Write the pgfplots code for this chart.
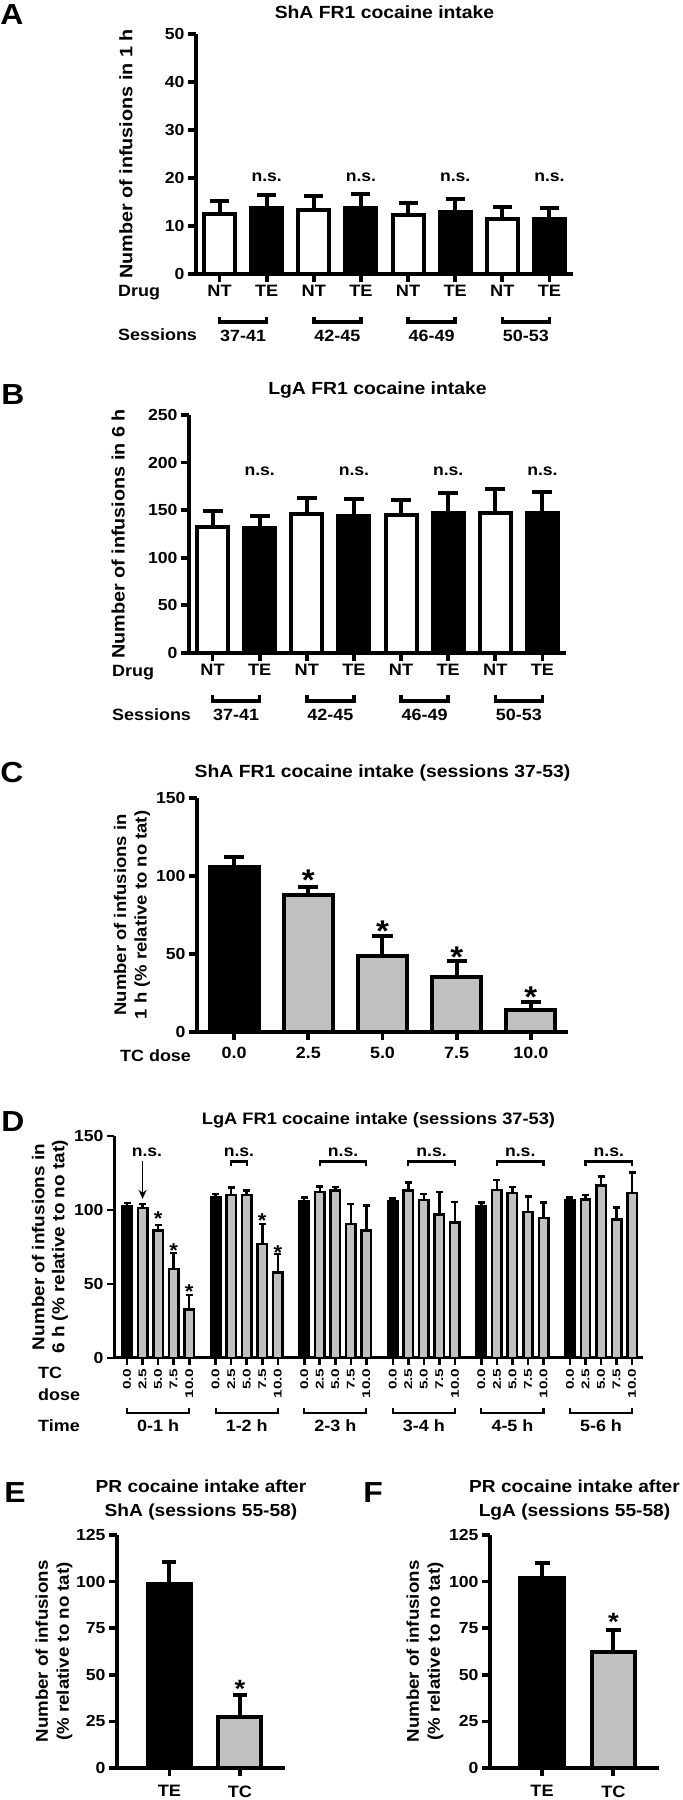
\documentclass[border=0pt]{standalone}
\usepackage{pgfplots}
\pgfplotsset{compat=1.18}
\usepackage{graphicx}
\usepackage{fontspec}
\setmainfont{Liberation Sans}[FakeStretch=1.1]
\usetikzlibrary{arrows.meta}
\definecolor{barg}{RGB}{192,192,192}
\newcommand\fs[1]{\fontsize{#1}{#1}\selectfont\bfseries}
\newcommand\fsl[2]{\fontsize{#1}{#2}\selectfont\bfseries}
\newcommand\q[1]{\scalebox{1}[0.8]{#1}}
\pgfplotsset{
 base/.style={
  scale only axis, clip=false, enlargelimits=false,
  axis lines=left,
  axis line style={-, line width=4.2pt},
  tick style={line width=3.8pt, black},
  tick align=outside, major tick length=8pt,
  /pgf/number format/assume math mode=true,
  ticklabel style={font=\fs{16}},
  ymin=0,
  ybar, bar shift=0pt,
  every axis title/.style={font=\fs{17.6}, anchor=center, align=center},
  every axis y label/.style={rotate=90, anchor=center, align=center, font=\fsl{17}{21}},
 },
 bw/.style={fill=white, draw=black, line width=4pt, bar shift=0pt},
 bb/.style={fill=black, draw=black, line width=4pt, bar shift=0pt},
 bg/.style={fill=barg, draw=black, line width=4pt, bar shift=0pt},
 eb/.style 2 args={error bars/.cd, y dir=plus, y explicit,
   error bar style={line width=#1, black, solid},
   error mark options={rotate=90, line width=#1, mark size=#2, black, solid}},
}
\begin{document}
\begin{tikzpicture}[x=1pt,y=1pt]
\useasboundingbox (0,0) rectangle (683,1800);

% ---------------- Panel A ----------------
\begin{axis}[base, at={(196pt,1526pt)}, anchor=south west, width=377pt, height=240pt,
 xmin=-0.5, xmax=7.5, ymax=50, ytick={0,10,20,30,40,50},
 xtick={0,1,2,3,4,5,6,7}, xticklabels={NT,TE,NT,TE,NT,TE,NT,TE},
 xticklabel style={font=\fs{16.5}},
 title={ShA FR1 cocaine intake}, title style={at={(axis description cs:0.5,1.0917)}},
 ylabel={Number of infusions in 1 h},
 ylabel style={at={(axis description cs:-0.186,0.5)}, font=\fs{18}}]
\addplot[bw, bar width=0.66, eb={4pt}{9.5pt}] table[x=x,y=y,y error=e]{
x y e
0 12.5 2.8
2 13.3 2.9
4 12.2 2.5
6 11.4 2.6
};
\addplot[bb, bar width=0.66, eb={4pt}{9.5pt}] table[x=x,y=y,y error=e]{
x y e
1 13.75 2.65
3 13.8 2.9
5 12.9 2.8
7 11.4 2.35
};
\node[font=\fs{16}] at (axis cs:1,20.2) {n.s.};
\node[font=\fs{16}] at (axis cs:3,20.2) {n.s.};
\node[font=\fs{16}] at (axis cs:5,20.2) {n.s.};
\node[font=\fs{16}] at (axis cs:7,20.2) {n.s.};
\draw[line width=3.5pt] ([yshift=-43pt]axis cs:0,0) -- ([yshift=-48pt]axis cs:0,0) -- ([yshift=-48pt]axis cs:1,0) -- ([yshift=-43pt]axis cs:1,0);
\draw[line width=3.5pt] ([yshift=-43pt]axis cs:2,0) -- ([yshift=-48pt]axis cs:2,0) -- ([yshift=-48pt]axis cs:3,0) -- ([yshift=-43pt]axis cs:3,0);
\draw[line width=3.5pt] ([yshift=-43pt]axis cs:4,0) -- ([yshift=-48pt]axis cs:4,0) -- ([yshift=-48pt]axis cs:5,0) -- ([yshift=-43pt]axis cs:5,0);
\draw[line width=3.5pt] ([yshift=-43pt]axis cs:6,0) -- ([yshift=-48pt]axis cs:6,0) -- ([yshift=-48pt]axis cs:7,0) -- ([yshift=-43pt]axis cs:7,0);
\node[font=\fs{16.3}] at ([yshift=-62pt]axis cs:0.5,0) {37-41};
\node[font=\fs{16.3}] at ([yshift=-62pt]axis cs:2.5,0) {42-45};
\node[font=\fs{16.3}] at ([yshift=-62pt]axis cs:4.5,0) {46-49};
\node[font=\fs{16.3}] at ([yshift=-62pt]axis cs:6.5,0) {50-53};
\end{axis}

% ---------------- Panel B ----------------
\begin{axis}[base, at={(189pt,1147pt)}, anchor=south west, width=377pt, height=238pt,
 xmin=-0.5, xmax=7.5, ymax=250, ytick={0,50,100,150,200,250},
 xtick={0,1,2,3,4,5,6,7}, xticklabels={NT,TE,NT,TE,NT,TE,NT,TE},
 xticklabel style={font=\fs{16.5}},
 title={LgA FR1 cocaine intake}, title style={at={(axis description cs:0.5,1.105)}},
 ylabel={Number of infusions in 6 h},
 ylabel style={at={(axis description cs:-0.188,0.5)}, font=\fs{18}}]
\addplot[bw, bar width=0.66, eb={4pt}{10pt}] table[x=x,y=y,y error=e]{
x y e
0 132 17
2 145.5 17.5
4 144.5 16.5
6 147.3 24.5
};
\addplot[bb, bar width=0.66, eb={4pt}{10pt}] table[x=x,y=y,y error=e]{
x y e
1 131.5 12.5
3 143.4 18.6
5 147 21
7 147 22
};
\node[font=\fs{16}] at (axis cs:1,190.4) {n.s.};
\node[font=\fs{16}] at (axis cs:3,190.4) {n.s.};
\node[font=\fs{16}] at (axis cs:5,190.4) {n.s.};
\node[font=\fs{16}] at (axis cs:7,190.4) {n.s.};
\draw[line width=3.5pt] ([yshift=-42pt]axis cs:0,0) -- ([yshift=-48pt]axis cs:0,0) -- ([yshift=-48pt]axis cs:1,0) -- ([yshift=-42pt]axis cs:1,0);
\draw[line width=3.5pt] ([yshift=-42pt]axis cs:2,0) -- ([yshift=-48pt]axis cs:2,0) -- ([yshift=-48pt]axis cs:3,0) -- ([yshift=-42pt]axis cs:3,0);
\draw[line width=3.5pt] ([yshift=-42pt]axis cs:4,0) -- ([yshift=-48pt]axis cs:4,0) -- ([yshift=-48pt]axis cs:5,0) -- ([yshift=-42pt]axis cs:5,0);
\draw[line width=3.5pt] ([yshift=-42pt]axis cs:6,0) -- ([yshift=-48pt]axis cs:6,0) -- ([yshift=-48pt]axis cs:7,0) -- ([yshift=-42pt]axis cs:7,0);
\node[font=\fs{16.3}] at ([yshift=-62pt]axis cs:0.5,0) {37-41};
\node[font=\fs{16.3}] at ([yshift=-62pt]axis cs:2.5,0) {42-45};
\node[font=\fs{16.3}] at ([yshift=-62pt]axis cs:4.5,0) {46-49};
\node[font=\fs{16.3}] at ([yshift=-62pt]axis cs:6.5,0) {50-53};
\end{axis}

% ---------------- Panel C ----------------
\begin{axis}[base, at={(197pt,768pt)}, anchor=south west, width=371pt, height=234pt,
 xmin=-0.5, xmax=4.5, ymax=150, ytick={0,50,100,150},
 xtick={0,1,2,3,4}, xticklabels={0.0,2.5,5.0,7.5,10.0},
 xticklabel style={yshift=-4pt, font=\fs{16.3}},
 title={ShA FR1 cocaine intake (sessions 37-53)}, title style={at={(axis description cs:0.5,1.107)}},
 ylabel={Number of infusions in\\1 h (\% relative to no tat)},
 ylabel style={at={(axis description cs:-0.175,0.5)}, font=\fsl{16.8}{20.5}}]
\addplot[bb, bar width=0.66, eb={4pt}{10pt}] table[x=x,y=y,y error=e]{
x y e
0 105.5 6.5
};
\addplot[bg, bar width=0.66, eb={4pt}{10pt}] table[x=x,y=y,y error=e]{
x y e
1 87.8 5.2
2 48.8 13.0
3 35.2 10.4
4 14.3 4.7
};
\node[font=\fs{30}, anchor=base, inner sep=0pt, yshift=-17pt] at (axis cs:1,101.3) {*};
\node[font=\fs{30}, anchor=base, inner sep=0pt, yshift=-17pt] at (axis cs:2,69.2) {*};
\node[font=\fs{30}, anchor=base, inner sep=0pt, yshift=-17pt] at (axis cs:3,52.1) {*};
\node[font=\fs{30}, anchor=base, inner sep=0pt, yshift=-17pt] at (axis cs:4,26.5) {*};
\end{axis}

% ---------------- Panel D ----------------
\begin{axis}[base, at={(114pt,442pt)}, anchor=south west, width=529pt, height=222pt,
 axis line style={-, line width=3pt}, tick style={line width=2.6pt, black},
 major tick length=7pt,
 xmin=-0.84, xmax=33.2, ymax=150, ytick={0,50,100,150},
 xtick={0,1,2,3,4,5.7,6.7,7.7,8.7,9.7,11.4,12.4,13.4,14.4,15.4,17.1,18.1,19.1,20.1,21.1,22.8,23.8,24.8,25.8,26.8,28.5,29.5,30.5,31.5,32.5},
 xticklabels={\q{0.0},\q{2.5},\q{5.0},\q{7.5},\q{10.0},\q{0.0},\q{2.5},\q{5.0},\q{7.5},\q{10.0},\q{0.0},\q{2.5},\q{5.0},\q{7.5},\q{10.0},\q{0.0},\q{2.5},\q{5.0},\q{7.5},\q{10.0},\q{0.0},\q{2.5},\q{5.0},\q{7.5},\q{10.0},\q{0.0},\q{2.5},\q{5.0},\q{7.5},\q{10.0}},
 xticklabel style={rotate=90, anchor=east, font=\fs{14}},
 title={LgA FR1 cocaine intake (sessions 37-53)}, title style={at={(axis description cs:0.5,1.072)}, font=\fs{16.6}},
 ylabel={Number of infusions in\\6 h (\% relative to no tat)},
 ylabel style={at={(axis description cs:-0.121,0.5)}, font=\fsl{17.2}{20}}]
\addplot[bb, line width=2.5pt, bar width=0.61, eb={2.5pt}{3.5pt}] table[x=x,y=y,y error=e]{
x y e
0 102.3 2.3
5.7 108.6 2.3
11.4 106.1 2.5
17.1 105.7 2.2
22.8 102.8 2.4
28.5 106.4 2.0
};
\addplot[bg, line width=2.5pt, bar width=0.61, eb={2.5pt}{3.5pt}] table[x=x,y=y,y error=e]{
x y e
1 101.2 2.9
2 86.3 3.7
3 60.3 10.5
4 32.6 10.1
6.7 110.2 4.9
7.7 110.0 3.1
8.7 77.1 13.5
9.7 57.8 12.4
12.4 112.0 4.0
13.4 113.1 2.5
14.4 90.4 13.5
15.4 86.1 16.9
18.1 113.1 5.4
19.1 106.6 4.3
20.1 97.1 15.1
21.1 91.7 13.8
23.8 113.6 6.7
24.8 111.5 3.9
25.8 98.7 10.3
26.8 94.7 10.3
29.5 107.0 3.2
30.5 116.5 6.1
31.5 93.5 8.1
32.5 111.5 14.0
};
% stars
\node[font=\fs{20}, anchor=base, inner sep=0pt, yshift=-11.4pt] at (axis cs:2,97.3) {*};
\node[font=\fs{20}, anchor=base, inner sep=0pt, yshift=-11.4pt] at (axis cs:3,75.9) {*};
\node[font=\fs{20}, anchor=base, inner sep=0pt, yshift=-11.4pt] at (axis cs:4,47.8) {*};
\node[font=\fs{20}, anchor=base, inner sep=0pt, yshift=-11.4pt] at (axis cs:8.7,96.2) {*};
\node[font=\fs{20}, anchor=base, inner sep=0pt, yshift=-11.4pt] at (axis cs:9.7,74.1) {*};
% n.s. group 1 with arrow
\node[font=\fs{16}] at (axis cs:1.28,138.9) {n.s.};
\draw[-{Stealth[length=9pt,width=8pt]}, line width=1.8pt] (axis cs:1,133) -- (axis cs:1,107.5);
% n.s. brackets
\draw[line width=2.2pt] (axis cs:6.7,129.8) -- (axis cs:6.7,132.7) -- (axis cs:7.7,132.7) -- (axis cs:7.7,129.8);
\node[font=\fs{16}] at (axis cs:7.2,138.9) {n.s.};
\draw[line width=2.2pt] (axis cs:12.4,129.8) -- (axis cs:12.4,132.7) -- (axis cs:15.4,132.7) -- (axis cs:15.4,129.8);
\node[font=\fs{16}] at (axis cs:13.9,138.9) {n.s.};
\draw[line width=2.2pt] (axis cs:18.1,129.8) -- (axis cs:18.1,132.7) -- (axis cs:21.1,132.7) -- (axis cs:21.1,129.8);
\node[font=\fs{16}] at (axis cs:19.6,138.9) {n.s.};
\draw[line width=2.2pt] (axis cs:23.8,129.8) -- (axis cs:23.8,132.7) -- (axis cs:26.8,132.7) -- (axis cs:26.8,129.8);
\node[font=\fs{16}] at (axis cs:25.3,138.9) {n.s.};
\draw[line width=2.2pt] (axis cs:29.5,129.8) -- (axis cs:29.5,132.7) -- (axis cs:32.5,132.7) -- (axis cs:32.5,129.8);
\node[font=\fs{16}] at (axis cs:31,138.9) {n.s.};
% time brackets
\draw[line width=2.2pt] ([yshift=-50pt]axis cs:0,0) -- ([yshift=-55pt]axis cs:0,0) -- ([yshift=-55pt]axis cs:4,0) -- ([yshift=-50pt]axis cs:4,0);
\draw[line width=2.2pt] ([yshift=-50pt]axis cs:5.7,0) -- ([yshift=-55pt]axis cs:5.7,0) -- ([yshift=-55pt]axis cs:9.7,0) -- ([yshift=-50pt]axis cs:9.7,0);
\draw[line width=2.2pt] ([yshift=-50pt]axis cs:11.4,0) -- ([yshift=-55pt]axis cs:11.4,0) -- ([yshift=-55pt]axis cs:15.4,0) -- ([yshift=-50pt]axis cs:15.4,0);
\draw[line width=2.2pt] ([yshift=-50pt]axis cs:17.1,0) -- ([yshift=-55pt]axis cs:17.1,0) -- ([yshift=-55pt]axis cs:21.1,0) -- ([yshift=-50pt]axis cs:21.1,0);
\draw[line width=2.2pt] ([yshift=-50pt]axis cs:22.8,0) -- ([yshift=-55pt]axis cs:22.8,0) -- ([yshift=-55pt]axis cs:26.8,0) -- ([yshift=-50pt]axis cs:26.8,0);
\draw[line width=2.2pt] ([yshift=-50pt]axis cs:28.5,0) -- ([yshift=-55pt]axis cs:28.5,0) -- ([yshift=-55pt]axis cs:32.5,0) -- ([yshift=-50pt]axis cs:32.5,0);
\node[font=\fs{16.3}] at ([yshift=-68pt]axis cs:2,0) {0-1 h};
\node[font=\fs{16.3}] at ([yshift=-68pt]axis cs:7.7,0) {1-2 h};
\node[font=\fs{16.3}] at ([yshift=-68pt]axis cs:13.4,0) {2-3 h};
\node[font=\fs{16.3}] at ([yshift=-68pt]axis cs:19.1,0) {3-4 h};
\node[font=\fs{16.3}] at ([yshift=-68pt]axis cs:24.8,0) {4-5 h};
\node[font=\fs{16.3}] at ([yshift=-68pt]axis cs:30.5,0) {5-6 h};
\end{axis}

% ---------------- Panel E ----------------
\begin{axis}[base, at={(117pt,32pt)}, anchor=south west, width=168pt, height=233pt,
 xmin=-0.745, xmax=1.64, ymax=125, ytick={0,25,50,75,100,125},
 xtick={0,1}, xticklabels={TE,TC}, xticklabel style={yshift=-6pt, font=\fs{16.5}},
 title={PR cocaine intake after\\ShA (sessions 55-58)},
 title style={at={(axis description cs:0.5,1.15)}, font=\fsl{17.4}{24}},
 ylabel={Number of infusions\\(\% relative to no tat)},
 ylabel style={at={(axis description cs:-0.375,0.5)}}]
\addplot[bb, bar width=0.61, eb={4pt}{7pt}] table[x=x,y=y,y error=e]{
x y e
0 98.6 11.9
};
\addplot[bg, bar width=0.61, eb={4pt}{7pt}] table[x=x,y=y,y error=e]{
x y e
1 27.1 12.2
};
\node[font=\fs{25}, anchor=base, inner sep=0pt, yshift=-14.3pt] at (axis cs:1,45.6) {*};
\end{axis}

% ---------------- Panel F ----------------
\begin{axis}[base, at={(490pt,32pt)}, anchor=south west, width=169pt, height=233pt,
 xmin=-0.73, xmax=1.64, ymax=125, ytick={0,25,50,75,100,125},
 xtick={0,1}, xticklabels={TE,TC}, xticklabel style={yshift=-6pt, font=\fs{16.5}},
 title={PR cocaine intake after\\LgA (sessions 55-58)},
 title style={at={(axis description cs:0.5,1.15)}, font=\fsl{17.4}{24}},
 ylabel={Number of infusions\\(\% relative to no tat)},
 ylabel style={at={(axis description cs:-0.385,0.5)}}]
\addplot[bb, bar width=0.61, eb={4pt}{7.5pt}] table[x=x,y=y,y error=e]{
x y e
0 101.8 8.0
};
\addplot[bg, bar width=0.61, eb={4pt}{7.5pt}] table[x=x,y=y,y error=e]{
x y e
1 62.1 12.0
};
\node[font=\fs{25}, anchor=base, inner sep=0pt, yshift=-14.3pt] at (axis cs:1,81.2) {*};
\end{axis}

% ---------------- free labels ----------------
\node[font=\fs{29}, inner sep=0pt] at (12,1785) {A};
\node[font=\fs{29}, inner sep=0pt] at (13,1405) {B};
\node[font=\fs{29}, inner sep=0pt] at (12,1027.5) {C};
\node[font=\fs{29}, inner sep=0pt] at (13,678) {D};
\node[font=\fs{29}, inner sep=0pt] at (15,307.5) {E};
\node[font=\fs{29}, inner sep=0pt] at (373,307.5) {F};

\node[font=\fs{16.3}, anchor=west, inner sep=0pt] at (118,1507) {Drug};
\node[font=\fs{16.3}, anchor=west, inner sep=0pt] at (118,1465) {Sessions};
\node[font=\fs{16.3}, anchor=west, inner sep=0pt] at (112,1127) {Drug};
\node[font=\fs{16.3}, anchor=west, inner sep=0pt] at (112,1085) {Sessions};
\node[font=\fs{16.3}, anchor=west, inner sep=0pt] at (120,744) {TC dose};
\node[font=\fs{16.3}, anchor=west, inner sep=0pt] at (38,427) {TC};
\node[font=\fs{16.3}, anchor=west, inner sep=0pt] at (38,405) {dose};
\node[font=\fs{16.3}, anchor=west, inner sep=0pt] at (38,374) {Time};
\end{tikzpicture}
\end{document}
